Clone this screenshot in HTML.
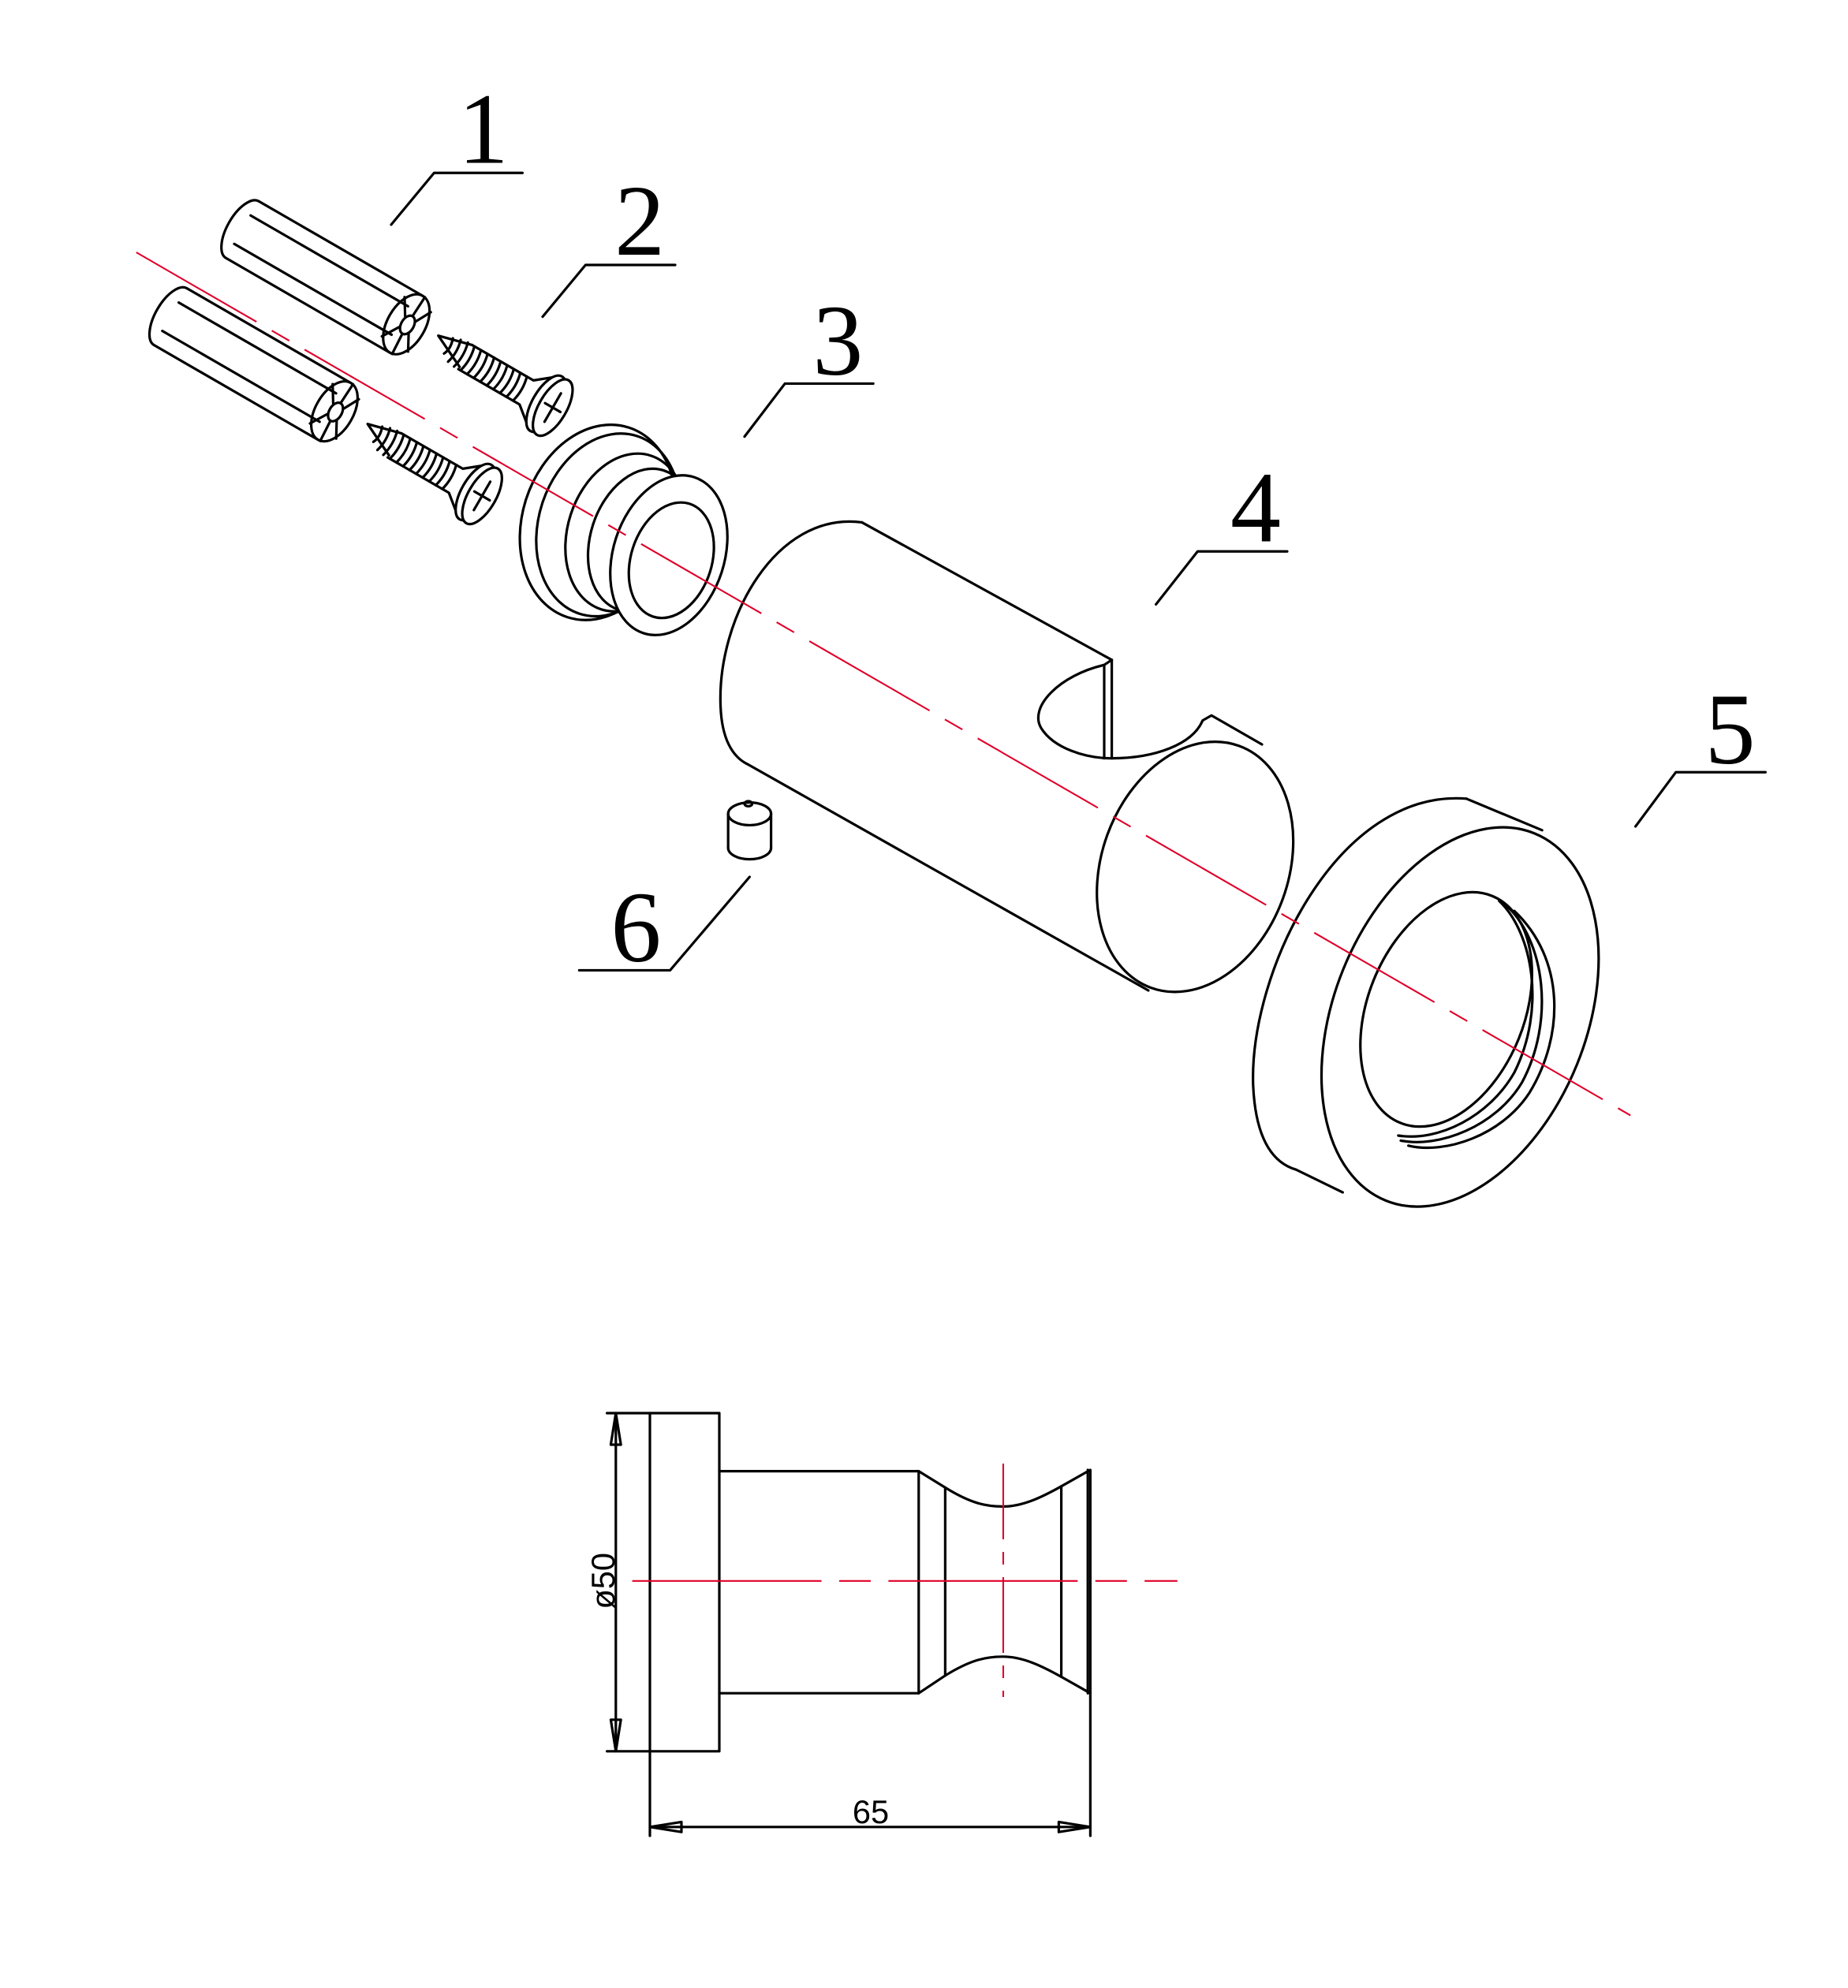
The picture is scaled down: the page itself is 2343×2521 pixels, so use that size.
<!DOCTYPE html>
<html><head><meta charset="utf-8"><style>
html,body{margin:0;padding:0;background:#fff;}
svg{display:block;}
</style></head><body>
<svg width="2343" height="2521" viewBox="0 0 1464.4 1575.6" xmlns="http://www.w3.org/2000/svg">
<rect width="1464.4" height="1575.6" fill="#fff"/>
<g font-family="'Liberation Serif', serif" font-size="80" text-anchor="middle" fill="#000">
<text x="383" y="129">1</text>
<text x="507" y="202">2</text>
<text x="664" y="297">3</text>
<text x="995" y="429">4</text>
<text x="1371" y="605">5</text>
<text x="504" y="762">6</text>
</g>
<g stroke="#000" stroke-width="2" fill="none" stroke-linecap="round" stroke-linejoin="round">
<polyline points="414,137 344,137 310,178"/>
<polyline points="535,210 464,210 430,251"/>
<polyline points="692,304 622,304 590,346"/>
<polyline points="1020,437 949,437 916,479"/>
<polyline points="1399,612 1328,612 1296,655"/>
<polyline points="459,769 531,769 594,695"/>

<g transform="translate(322,257) rotate(30)">
<path d="M-150,-26 L0,-26 M-150,26 L0,26 M-150,-13 L-6,-13 M-150,13 L-6,13"/>
<path d="M-150,-26 A12,26 0 0 0 -150,26"/>
<ellipse cx="0" cy="0" rx="15" ry="26"/>
<ellipse cx="1" cy="0" rx="5" ry="8"/>
<path d="M1,-8 L2,-26 M1,8 L2,26 M5,-5 L12,-18 M5,5 L12,18 M-4,-5 L-12,-18 M-4,5 L-12,18"/>
</g>
<g transform="translate(265,326) rotate(30)">
<path d="M-150,-26 L0,-26 M-150,26 L0,26 M-150,-13 L-6,-13 M-150,13 L-6,13"/>
<path d="M-150,-26 A12,26 0 0 0 -150,26"/>
<ellipse cx="0" cy="0" rx="15" ry="26"/>
<ellipse cx="1" cy="0" rx="5" ry="8"/>
<path d="M1,-8 L2,-26 M1,8 L2,26 M5,-5 L12,-18 M5,5 L12,18 M-4,-5 L-12,-18 M-4,5 L-12,18"/>
</g>

<g transform="translate(438,323) rotate(30)">
<path d="M-107,-4 L-80,-11 M-107,-4 L-80,9"/>
<path d="M-96,-8 q3,8 0,14 M-90,-10 q3,10 0,20 M-84,-11 q3,11 0,22 M-78,-11 q3,11 0,22 M-72,-11 q3,11 0,22 M-66,-11 q3,11 0,22 M-60,-11 q3,11 0,22 M-54,-11 q3,11 0,22 M-48,-11 q3,11 0,22 M-42,-11 q3,11 0,22 M-36,-11 q3,11 0,22 M-30,-11 q3,11 0,22"/>
<path d="M-80,-11 L-24,-11 L-8,-24 M-80,11 L-24,11 L-8,24"/>
<ellipse cx="-6" cy="0" rx="11" ry="25" fill="#fff"/>
<ellipse cx="0" cy="0" rx="11" ry="25" fill="#fff"/>
<path d="M0,-13 L0,13 M-7,0 L7,0"/>
</g>
<g transform="translate(382,393) rotate(30)">
<path d="M-107,-4 L-80,-11 M-107,-4 L-80,9"/>
<path d="M-96,-8 q3,8 0,14 M-90,-10 q3,10 0,20 M-84,-11 q3,11 0,22 M-78,-11 q3,11 0,22 M-72,-11 q3,11 0,22 M-66,-11 q3,11 0,22 M-60,-11 q3,11 0,22 M-54,-11 q3,11 0,22 M-48,-11 q3,11 0,22 M-42,-11 q3,11 0,22 M-36,-11 q3,11 0,22 M-30,-11 q3,11 0,22"/>
<path d="M-80,-11 L-24,-11 L-8,-24 M-80,11 L-24,11 L-8,24"/>
<ellipse cx="-6" cy="0" rx="11" ry="25" fill="#fff"/>
<ellipse cx="0" cy="0" rx="11" ry="25" fill="#fff"/>
<path d="M0,-13 L0,13 M-7,0 L7,0"/>
</g>

<ellipse cx="474" cy="414" rx="60" ry="79" transform="rotate(18 474 414)" fill="#fff"/>
<ellipse cx="482" cy="416" rx="55" ry="74" transform="rotate(18 482 416)"/>
<ellipse cx="496" cy="422" rx="46" ry="64" transform="rotate(18 496 422)"/>
<ellipse cx="508" cy="428" rx="40" ry="58" transform="rotate(18 508 428)"/>
<ellipse cx="530" cy="440" rx="44" ry="65" transform="rotate(18 530 440)" fill="#fff"/>
<ellipse cx="532" cy="444" rx="32" ry="47" transform="rotate(18 532 444)"/>

<path d="M683,414 L881,523"/>
<path d="M683,414 C615,405 568,490 571,560 C572,585 580,600 593,606 L910,785"/>
<path d="M875,527 L875,601 M881,523 L881,601"/>
<path d="M881,523 L875,527 C840,535 815,560 825,577 C835,593 860,601 881,601 C915,601 945,590 953,571 L960,567 L1000,590"/>
<ellipse cx="947" cy="687" rx="74" ry="102" transform="rotate(20 947 687)"/>

<path d="M577,645 L577,672 M611,645 L611,672"/>
<ellipse cx="594" cy="645" rx="17" ry="9"/>
<path d="M577,672 A17,9 0 0 0 611,672"/>
<ellipse cx="593" cy="637" rx="3" ry="2"/>

<path d="M1162,633 L1222,658"/>
<path d="M1162,633 C1060,625 990,770 993,860 C995,905 1010,922 1027,927 L1064,945"/>
<ellipse cx="1157" cy="806" rx="100" ry="157" transform="rotate(22 1157 806)" fill="#fff"/>
<ellipse cx="1146" cy="800" rx="62" ry="97" transform="rotate(22 1146 800)"/>
<path d="M1188,714 C1215,740 1225,800 1200,850 C1180,885 1140,905 1108,900"/>
<path d="M1192,716 C1225,745 1232,810 1206,858 C1185,893 1140,910 1110,904"/>
<path d="M1200,722 C1240,760 1240,820 1212,866 C1190,900 1145,915 1116,908"/>

<rect x="515" y="1120" width="55" height="268"/>
<path d="M570,1166 L728,1166 L728,1342 L570,1342"/>
<path d="M728,1166 L749,1179 C770,1192 782,1194 795,1194 C810,1194 825,1187 841,1178 L864,1165 L864,1342 L841,1329 C825,1320 810,1313 795,1313 C782,1313 770,1315 749,1328 L728,1342"/>
<path d="M749,1179 L749,1328 M841,1178 L841,1329 M862,1165 L862,1342"/>
<path d="M481,1120 L515,1120 M481,1388 L515,1388 M488,1120 L488,1388"/>
<path d="M515,1388 L515,1455 M864,1342 L864,1455 M515,1448 L864,1448"/>
<path d="M488,1120 L484,1145 L492,1145 Z M488,1388 L484,1363 L492,1363 Z M515,1448 L540,1444 L540,1452 Z M864,1448 L839,1444 L839,1452 Z"/>
</g>
<text x="690" y="1445" font-family="'Liberation Sans', sans-serif" font-size="26" text-anchor="middle" fill="#000">65</text>
<text x="0" y="0" transform="translate(487,1253) rotate(-90)" font-family="'Liberation Sans', sans-serif" font-size="26" text-anchor="middle" fill="#000">ø50</text>

<g stroke="#e0002a" stroke-width="1.3" fill="none">
<line x1="108" y1="200" x2="1292" y2="884" stroke-dasharray="110 14 16 14"/>
<line x1="501" y1="1253" x2="933" y2="1253" stroke-dasharray="150 14 25 14"/>
<line x1="795" y1="1160" x2="795" y2="1345" stroke-dasharray="60 10 10 10"/>
</g>
</svg>
</body></html>
